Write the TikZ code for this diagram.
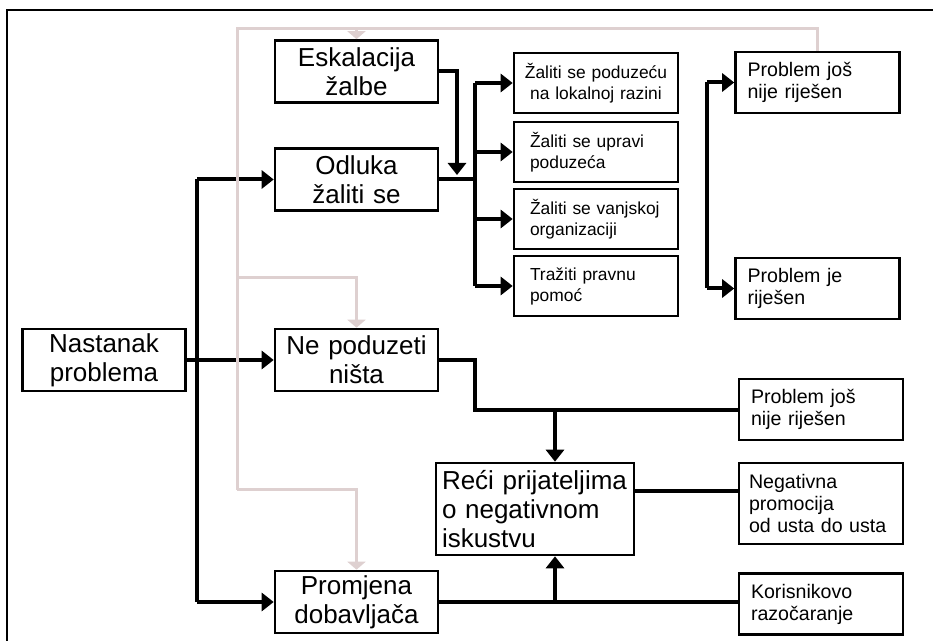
\documentclass[tikz,border=0pt]{standalone}
\usepackage{fontspec}
\setmainfont{Liberation Sans}
\usetikzlibrary{arrows.meta}
\definecolor{backcol}{RGB}{222,208,208}

\begin{document}
\begin{tikzpicture}[x=0.5pt, y=-0.5pt,
    bigbox/.style={draw, line width=1.3pt, inner xsep=0pt, inner ysep=1pt, text width=81.5pt, minimum height=31pt, align=center, font=\fontsize{13}{14.5}\selectfont},
    smallbox/.style={draw, line width=1.3pt, inner xsep=8pt, inner ysep=1pt, text width=66pt, minimum height=30pt, align=left, font=\fontsize{8.7}{10.5}\selectfont},
    endbox/.style={draw, line width=1.3pt, inner xsep=6pt, inner ysep=1pt, text width=70pt, minimum height=30.5pt, align=left, font=\fontsize{9.8}{11}\selectfont},
    flow/.style={line width=2pt},
    arr/.style={flow, -{Triangle[length=6pt, width=9pt]}},
    back/.style={line width=1.5pt, draw=backcol},
    backarr/.style={back, -{Triangle[length=4pt, width=9pt]}}]
        \useasboundingbox (0,0) rectangle (933,641);
        \draw[line width=0.8pt] (7,641) |- (933,10);

        \node[bigbox] (esk) at (356.5,71.5) {Eskalacija\\žalbe};
        \node[bigbox] (odl) at (356.5,179.5) {Odluka\\žaliti se};
        \node[bigbox] (nast) at (104,360) {Nastanak\\problema};
        \node[bigbox] (ned) at (356.5,360) {Ne poduzeti\\ništa};
        \node[bigbox] (prom) at (356.5,602) {Promjena\\dobavljača};
        \node[bigbox, text width=93pt, inner xsep=3pt, minimum height=46pt, align=left] (reci) at (535,509) {Reći prijateljima\\o negativnom\\iskustvu};

        \node[smallbox, text width=76pt, inner xsep=3pt, align=center] (z1) at (596,83) {Žaliti se poduzeću\\na lokalnoj razini};
        \node[smallbox] (z2) at (596,152) {Žaliti se upravi\\poduzeća};
        \node[smallbox] (z3) at (596,219) {Žaliti se vanjskoj\\organizaciji};
        \node[smallbox] (z4) at (596,286) {Tražiti pravnu\\pomoć};

        \node[endbox] (pj1) at (817.5,82.5) {Problem još\\nije riješen};
        \node[endbox] (pr) at (817.5,288.5) {Problem je\\riješen};
        \node[endbox] (pj2) at (821,409.5) {Problem još\\nije riješen};
        \node[endbox, inner xsep=5pt, text width=72pt, minimum height=40.5pt] (neg) at (821,503.5) {Negativna\\promocija\\od usta do usta};
        \node[endbox] (kor) at (821,604) {Korisnikovo\\razočaranje};

        \coordinate (tr) at (197,360);
        \coordinate (bz) at (475,180);
        \coordinate (ez) at (457,175);
        \coordinate (bp) at (707,0);
        \coordinate (bn) at (475,410);
        \coordinate (ra) at (555,0);

        \draw[arr] (nast.east) -- (ned.west);
        \draw[flow] (tr |- odl.west) -- (tr |- prom.west);
        \draw[arr] (tr |- odl.west) -- (odl.west);
        \draw[arr] (tr |- prom.west) -- (prom.west);

        \draw[flow] (odl.east) -- (odl.east -| bz);
        \draw[arr] (esk.east) -| (ez);
        \draw[flow] (bz |- z1.west) -- (bz |- z4.west);
        \foreach \b in {z1,z2,z3,z4} \draw[arr] (bz |- \b.west) -- (\b.west);

        \draw[flow] (bp |- pj1.west) -- (bp |- pr.west);
        \foreach \b in {pj1,pr} \draw[arr] (bp |- \b.west) -- (\b.west);

        \draw[flow] (ned.east) -| (bn) -- (bn -| pj2.west);
        \draw[arr] (ra |- bn) -- (ra |- reci.north);
        \draw[flow] ([yshift=9pt]reci.east) -- ([yshift=9pt]reci.east -| neg.west);
        \draw[flow] (prom.east) -- (prom.east -| kor.west);
        \draw[arr] (ra |- prom.east) -- (ra |- reci.south);

        % way back
        \coordinate (g0) at (237,29);
        \coordinate (g1) at (237,278);
        \coordinate (g2) at (237,490);
        \draw[back] (pj1.north) |- (g0) -- (g2);
        \draw[backarr] (esk.north |- g0) -- (esk.north);
        \draw[backarr] (g1) -| (ned.north);
        \draw[backarr] (g2) -| (prom.north);
\end{tikzpicture}
\end{document}
